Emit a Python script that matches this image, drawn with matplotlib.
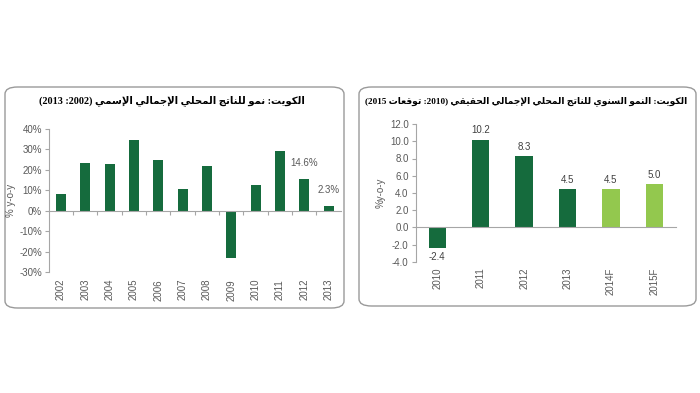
import numpy as np
import matplotlib
matplotlib.use("Agg")
import matplotlib.pyplot as plt
from matplotlib.patches import FancyBboxPatch
from matplotlib.ticker import FuncFormatter

# Data: nominal GDP growth (left), real GDP growth (right)
nom_years = ['2002', '2003', '2004', '2005', '2006', '2007', '2008', '2009', '2010', '2011', '2012', '2013']
nom_growth = [8.2, 23.2, 22.9, 34.8, 25.0, 10.7, 21.7, -23.2, 12.8, 29.2, 15.7, 2.3]
nom_labels = {10: '14.6%', 11: '2.3%'}

real_years = ['2010', '2011', '2012', '2013', '2014F', '2015F']
real_growth = [-2.4, 10.2, 8.3, 4.5, 4.5, 5.0]
real_forecast = [False, False, False, False, True, True]

DARK = '#156b3d'
LIGHT = '#93c84e'
AXIS_GRAY = '#a6a6a6'
TEXT_GRAY = '#595959'

# --- minimal arabic shaping (matplotlib has no shaping engine) ---
FORMS = {
    'ا': ('\uFE8D', '\uFE8E', None, None),
    'إ': ('\uFE87', '\uFE88', None, None),
    'و': ('\uFEED', '\uFEEE', None, None),
    'ل': ('\uFEDD', '\uFEDE', '\uFEDF', '\uFEE0'),
    'ك': ('\uFED9', '\uFEDA', '\uFEDB', '\uFEDC'),
    'ي': ('\uFEF1', '\uFEF2', '\uFEF3', '\uFEF4'),
    'ت': ('\uFE95', '\uFE96', '\uFE97', '\uFE98'),
    'ن': ('\uFEE5', '\uFEE6', '\uFEE7', '\uFEE8'),
    'م': ('\uFEE1', '\uFEE2', '\uFEE3', '\uFEE4'),
    'ج': ('\uFE9D', '\uFE9E', '\uFE9F', '\uFEA0'),
    'ح': ('\uFEA1', '\uFEA2', '\uFEA3', '\uFEA4'),
    'س': ('\uFEB1', '\uFEB2', '\uFEB3', '\uFEB4'),
    'ق': ('\uFED5', '\uFED6', '\uFED7', '\uFED8'),
    'ع': ('\uFEC9', '\uFECA', '\uFECB', '\uFECC'),
}
LAM_ALEF = {'ا': ('\uFEFB', '\uFEFC'), 'إ': ('\uFEF9', '\uFEFA')}


def shape_word(word):
    items = []
    i = 0
    while i < len(word):
        if word[i] == 'ل' and i + 1 < len(word) and word[i + 1] in LAM_ALEF:
            items.append(('LA', word[i + 1]))
            i += 2
        else:
            items.append(word[i])
            i += 1
    out = []
    for k, it in enumerate(items):
        prev = items[k - 1] if k > 0 else None
        nxt = items[k + 1] if k + 1 < len(items) else None
        join_prev = isinstance(prev, str) and prev in FORMS and FORMS[prev][2] is not None
        if isinstance(it, tuple):
            out.append(LAM_ALEF[it[1]][1 if join_prev else 0])
            continue
        if it not in FORMS:
            out.append(it)
            continue
        f = FORMS[it]
        join_next = f[2] is not None and nxt is not None and (isinstance(nxt, tuple) or nxt in FORMS)
        if join_prev and join_next:
            out.append(f[3])
        elif join_prev:
            out.append(f[1])
        elif join_next:
            out.append(f[2])
        else:
            out.append(f[0])
    return ''.join(out)


def visual(text):
    shaped = ' '.join(shape_word(w) for w in text.split(' '))
    return shaped[::-1]


title_left = '(2013 :2002) ' + visual('الكويت: نمو للناتج المحلي الإجمالي الإسمي')
title_right = '(2015 ' + visual('توقعات') + ' :2010) ' + visual('الكويت: النمو السنوي للناتج المحلي الإجمالي الحقيقي')

plt.rcParams['font.family'] = ['Liberation Sans', 'DejaVu Sans']

fig = plt.figure(figsize=(7, 3.93), dpi=100)
fig.patch.set_facecolor('white')

# panel frames
for (x0, y0, x1, y1) in [(5, 87, 344, 308), (359, 87, 696, 306)]:
    box = FancyBboxPatch((x0 / 700, 1 - y1 / 393), (x1 - x0) / 700, (y1 - y0) / 393,
                         boxstyle='round,pad=0,rounding_size=0.018',
                         transform=fig.transFigure, facecolor='none',
                         edgecolor='#9a9a9a', linewidth=1.0, zorder=-1)
    fig.patches.append(box)

title_font = dict(family=['Liberation Serif', 'DejaVu Sans'], fontweight='bold', color='black')
fig.text(0.245, 1 - 101 / 393, title_left, ha='center', va='center', fontsize=7.3, **title_font)
fig.text(0.751, 1 - 101 / 393, title_right, ha='center', va='center', fontsize=6.6, **title_font)


def style_axes(ax, cats, pad):
    ax.set_facecolor('none')
    for s in ['top', 'right']:
        ax.spines[s].set_visible(False)
    ax.spines['left'].set_color(AXIS_GRAY)
    ax.spines['bottom'].set_color(AXIS_GRAY)
    ax.spines['bottom'].set_position(('data', 0))
    x = np.arange(len(cats))
    ax.set_xlim(-0.5, len(cats) - 0.5)
    ax.set_xticks([])
    ax.tick_params(axis='y', colors=AXIS_GRAY, labelcolor=TEXT_GRAY, labelsize=7, length=3, width=0.8, pad=2)
    sec = ax.secondary_xaxis('bottom')
    sec.spines['bottom'].set_visible(False)
    sec.set_xticks(x)
    sec.set_xticklabels(cats, rotation=90, fontsize=7, color=TEXT_GRAY)
    sec.tick_params(length=0, pad=pad)
    return x


# left chart
ax1 = fig.add_axes([48.8 / 700, 1 - 272 / 393, 292 / 700, 143 / 393])
x1 = style_axes(ax1, nom_years, 5)
ax1.bar(x1, nom_growth, width=0.42, color=DARK, zorder=2)
ax1.set_ylim(-30, 40)
ax1.set_yticks(np.arange(-30, 41, 10))
ax1.yaxis.set_major_formatter(FuncFormatter(lambda v, _: f'{v:.0f}%'))
ax1.set_xticks(np.arange(len(nom_years) - 1) + 0.5)
ax1.set_xticklabels([])
ax1.tick_params(axis='x', colors=AXIS_GRAY, length=3, width=0.8, direction='out')
for i, lab in nom_labels.items():
    ax1.annotate(lab, (x1[i], nom_growth[i]), xytext=(0, 8), textcoords='offset points',
                 ha='center', va='bottom', fontsize=7, color=TEXT_GRAY)
ax1.set_ylabel('% y-o-y', fontsize=7, color=TEXT_GRAY, labelpad=2)

# right chart
ax2 = fig.add_axes([415.6 / 700, 1 - 262 / 393, 260.4 / 700, 138 / 393])
x2 = style_axes(ax2, real_years, 4)
colors = [LIGHT if f else DARK for f in real_forecast]
ax2.bar(x2, real_growth, width=0.4, color=colors, zorder=2)
ax2.set_ylim(-4, 12)
ax2.set_yticks(np.arange(-4, 12.1, 2))
ax2.yaxis.set_major_formatter(FuncFormatter(lambda v, _: f'{v:.1f}'))
for xi, v in zip(x2, real_growth):
    ax2.annotate(f'{v:.1f}', (xi, v), xytext=(0, 3 if v >= 0 else -3), textcoords='offset points',
                 ha='center', va='bottom' if v >= 0 else 'top', fontsize=7, color='#404040')
ax2.set_ylabel('%y-o-y', fontsize=7, color=TEXT_GRAY, labelpad=3)

fig.savefig('out.png', dpi=100)
